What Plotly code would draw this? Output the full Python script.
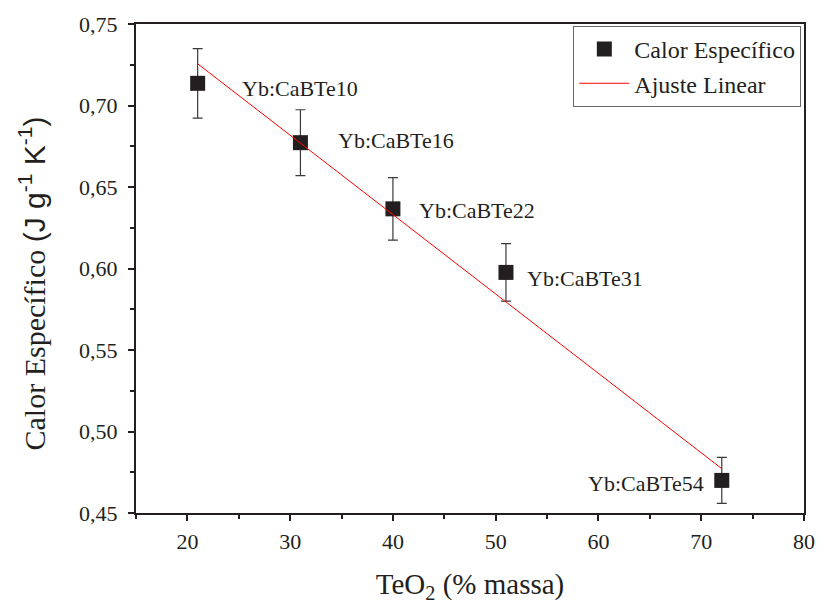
import plotly.graph_objects as go

# Data
teo2 = [21, 31, 40, 51, 72]
calor = [0.7136, 0.6772, 0.6366, 0.5976, 0.4700]
erro = [0.0213, 0.0202, 0.0192, 0.0176, 0.0141]
amostras = ["Yb:CaBTe10", "Yb:CaBTe16", "Yb:CaBTe22", "Yb:CaBTe31", "Yb:CaBTe54"]
ajuste_x = [21, 72]
ajuste_y = [0.7256, 0.4772]

x_ticks = [20, 30, 40, 50, 60, 70, 80]
y_ticks = [0.45, 0.50, 0.55, 0.60, 0.65, 0.70, 0.75]

SERIF = "Liberation Serif, Times New Roman, serif"
SANS = "Liberation Sans, Arial, sans-serif"
INK = "#231f20"

fig = go.Figure()

fig.add_trace(go.Scatter(
    x=teo2, y=calor, mode="markers", name="Calor Específico",
    marker=dict(symbol="square", size=15, color=INK),
    error_y=dict(type="data", array=erro, visible=True, color="#3a3a3a",
                 thickness=1.2, width=5),
))
fig.add_trace(go.Scatter(
    x=ajuste_x, y=ajuste_y, mode="lines", name="Ajuste Linear",
    line=dict(color="#ff0000", width=1),
))

# label offsets in pixels (style, not data)
shifts = [(42, -5, "left"), (36, 2, "left"), (24, -2, "left"), (19, -6, "left"), (-16, -3, "right")]
for xv, yv, txt, (dx, dy, anc) in zip(teo2, calor, amostras, shifts):
    fig.add_annotation(x=xv, y=yv, text=txt, showarrow=False,
                       xanchor=anc, yanchor="middle", xshift=dx, yshift=dy,
                       font=dict(family=SERIF, size=22, color=INK))

# y-axis title (drawn as annotation so it can sit slightly below centre like the reference)
fig.add_annotation(
    x=0, y=0.5, xref="paper", yref="paper", xanchor="center", yanchor="middle",
    xshift=-104, yshift=-15, textangle=-90, showarrow=False,
    text="Calor Específico <span style='font-family:Liberation Sans, Arial, sans-serif'>(J g<sup>-1</sup> K<sup>-1</sup>)</span>",
    font=dict(family=SERIF, size=30, color=INK),
)

axis_common = dict(
    showline=True, linecolor=INK, linewidth=2, mirror=True,
    ticks="outside", ticklen=6, tickwidth=1.5, tickcolor=INK,
    showgrid=False, zeroline=False,
    tickfont=dict(family=SERIF, size=22, color=INK),
)

fig.update_xaxes(
    range=[15, 80], tickvals=x_ticks, ticktext=[str(v) for v in x_ticks],
    minor=dict(ticks="outside", ticklen=4, tickwidth=1.5, tickcolor=INK, dtick=5, tick0=15),
    title=dict(text="TeO<sub>2</sub> (% massa)", font=dict(family=SERIF, size=29, color=INK), standoff=20),
    ticklabelstandoff=2,
    **axis_common,
)
fig.update_yaxes(
    range=[0.45, 0.75], tickvals=y_ticks, ticktext=[f"{v:.2f}".replace(".", ",") for v in y_ticks],
    minor=dict(ticks="outside", ticklen=4, tickwidth=1.5, tickcolor=INK, dtick=0.025, tick0=0.45),
    ticklabelstandoff=6,
    **axis_common,
)

fig.update_layout(
    width=827, height=607,
    margin=dict(l=136, r=13, t=16, b=91),
    paper_bgcolor="white", plot_bgcolor="white",
    showlegend=True,
    legend=dict(x=0.996, y=0.996, xanchor="right", yanchor="top",
                bordercolor="#666666", borderwidth=1, bgcolor="white",
                font=dict(family=SERIF, size=24, color=INK),
                tracegroupgap=0, itemwidth=50),
    font=dict(family=SERIF, color=INK),
)

fig.write_html("out.html")
